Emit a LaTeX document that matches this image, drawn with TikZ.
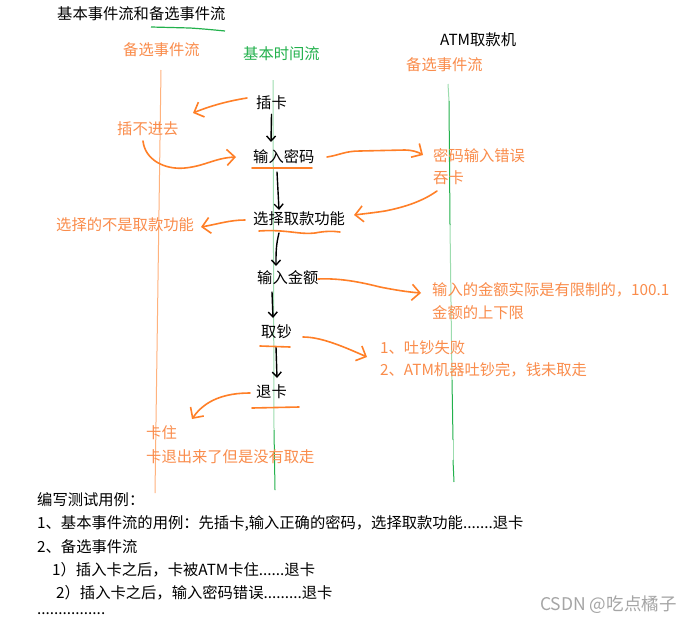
\documentclass[tikz,border=0pt]{standalone}
\usepackage{fontspec}
\setmainfont{Noto Sans CJK SC}
\usetikzlibrary{arrows.meta}
\definecolor{org}{RGB}{255,127,39}
\definecolor{orgtxt}{RGB}{250,140,75}
\definecolor{grn}{RGB}{34,177,76}
\definecolor{wm}{RGB}{165,165,165}
\begin{document}
\begin{tikzpicture}[x=1pt,y=-1pt,
  every node/.style={inner sep=0pt, anchor=west, font=\fontsize{15.3}{18}\selectfont},
  blk/.style={text=black},
  otx/.style={text=orgtxt},
  gtx/.style={text=grn},
  oline/.style={draw=org, line width=1.6pt, line cap=round, line join=round},
  barrow/.style={draw=black, line width=1.4pt, line cap=round, -{Straight Barb[length=5pt,width=9pt,line width=1.4pt]}},
  oarrow/.style={oline, -{Straight Barb[length=8pt,width=16pt,line width=1.6pt]}},
  lifeO/.style={draw=org!60, line width=1pt},
  lifeG/.style={draw=grn, line width=1pt},
  lifeGl/.style={draw=grn!45, line width=1pt},
  ]
\useasboundingbox[fill=white] (0,0) rectangle (692,624);

% lifelines
\draw[lifeO] (161,70) -- (158,280) -- (155,493);
\draw[lifeGl] (273,80) -- (274,430);
\draw[lifeG] (274,430) -- (275,490);
\draw[lifeGl] (448,84) -- (449,101);
\draw[lifeG] (449,101) -- (450,225);
\draw[lifeGl] (450,225) -- (452,380);
\draw[lifeG] (452,380) -- (453,440);
\draw[lifeGl] (453,440) -- (453,460);
\draw[lifeG] (453,460) -- (454,482);

% headers
\node[blk] (title) at (57,14) {基本事件流和备选事件流};
\draw[grn, line width=1.2pt] (151,27) -- (190,28) .. controls (205,29) and (215,30) .. (225,31);
\node[otx] (altL) at (123,50) {备选事件流};
\node[gtx] (basic) at (243,54) {基本时间流};
\node[blk] (atm) at (440,40) {ATM取款机};
\node[otx] (altR) at (406,65) {备选事件流};

% main flow
\node[blk] (cha) at (256,103) {插卡};
\node[blk] (mima) at (253,157) {输入密码};
\node[blk] (xuanze) at (253,219) {选择取款功能};
\node[blk] (jine) at (257,278) {输入金额};
\node[blk] (quchao) at (261,332) {取钞};
\node[blk] (tuika) at (256,392) {退卡};

\coordinate (m1) at (271,142);
\coordinate (m2s) at (277,172);
\coordinate (m2) at (279,210);
\coordinate (m3s) at (279,233);
\coordinate (m3) at (276,266);
\coordinate (m4s) at (272,292);
\coordinate (m4) at (273,318);
\coordinate (m5s) at (276,347);
\coordinate (m5) at (277,378);
\draw[barrow] (cha.south) ++(0,4) -- (m1);
\draw[barrow] (m2s) -- (m2);
\draw[barrow] (m3s) .. controls (276,245) and (276,252) .. (m3);
\draw[barrow] (m4s) -- (m4);
\draw[barrow] (m5s) -- (m5);

% underlines
\draw[oline] (252,168) -- (312,168);
\draw[oline] (259,231) .. controls (285,229) and (300,235) .. (315,233) .. controls (325,231) and (333,231) .. (340,232);
\draw[oline] (260,346) -- (290,347);
\draw[oline] (252,408) -- (299,407);

% alternative texts
\node[otx] (buJin) at (117,129) {插不进去};
\node[otx] (mimaErr) at (433,156) {密码输入错误};
\node[otx] (tun) at (433,178) {吞卡};
\node[otx] (notQu) at (56,225) {选择的不是取款功能};
\node[otx] (xianzhi) at (432,290) {输入的金额实际是有限制的，100.1};
\node[otx] (shangxia) at (432,313) {金额的上下限};
\node[otx] (shibai) at (380,348) {1、吐钞失败};
\node[otx] (weiqu) at (380,370) {2、ATM机器吐钞完，钱未取走};
\node[otx] (kazhu) at (146,433) {卡住};
\node[otx] (tuichu) at (146,457) {卡退出来了但是没有取走};

% orange arrows
\coordinate (o1s) at (247,98);
\coordinate (o1) at (193,113);
\draw[oarrow] (o1s) .. controls (228,101) and (210,106) .. (o1);

\coordinate (o2s) at (143,141);
\coordinate (o2) at (236,157);
\draw[oarrow] (o2s) .. controls (145,160) and (165,170) .. (185,168) .. controls (205,166) and (215,158) .. (o2);

\coordinate (o3s) at (327,157);
\coordinate (o3) at (423,155);
\draw[oarrow] (o3s) .. controls (340,155) and (345,151) .. (360,151) -- (405,150) .. controls (412,150) and (418,152) .. (o3);

\coordinate (o4s) at (437,191);
\coordinate (o4) at (354,215);
\draw[oarrow] (o4s) .. controls (420,203) and (400,208) .. (385,211) .. controls (372,213) and (362,214) .. (o4);

\coordinate (o5s) at (245,220);
\coordinate (o5) at (201,227);
\draw[oarrow] (o5s) .. controls (230,220) and (218,224) .. (o5);

\coordinate (o6s) at (318,279);
\coordinate (o6) at (421,293);
\draw[oarrow] (o6s) .. controls (340,278) and (360,282) .. (380,287) .. controls (395,290) and (408,292) .. (o6);

\coordinate (o7s) at (303,337);
\coordinate (o7) at (367,357);
\draw[oarrow] (o7s) .. controls (320,337) and (340,345) .. (o7);

\coordinate (o8s) at (250,393);
\coordinate (o8) at (192,419);
\draw[oarrow] (o8s) .. controls (225,393) and (205,400) .. (o8);

% test cases
\node[blk] (bx) at (37,500) {编写测试用例：};
\node[blk] (c1) at (37,523) {1、基本事件流的用例：先插卡,输入正确的密码，选择取款功能.......退卡};
\node[blk] (c2) at (37,547) {2、备选事件流};
\node[blk] (c21) at (52,570) {1）插入卡之后，卡被ATM卡住......退卡};
\node[blk] (c22) at (56,593) {2）插入卡之后，输入密码错误.........退卡};
\node[blk] (dots) at (37,614) {................};
\node[text=wm, font=\fontsize{17.5}{20}\selectfont] (wmark) at (540,605) {CSDN @吃点橘子};
\end{tikzpicture}
\end{document}
